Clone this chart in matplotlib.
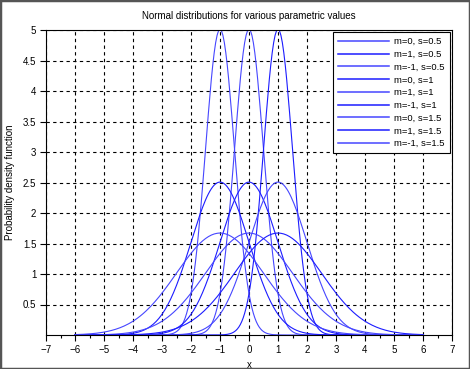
import numpy as np
import matplotlib
matplotlib.use("Agg")
import matplotlib.pyplot as plt
from matplotlib.patches import Rectangle
from matplotlib.ticker import MultipleLocator

plt.rcParams['font.family'] = ['Liberation Sans', 'DejaVu Sans']

# parameters of the curves (mean, std)
means = [0, 1, -1, 0, 1, -1, 0, 1, -1]
sigmas = [0.5, 0.5, 0.5, 1, 1, 1, 1.5, 1.5, 1.5]
labels = ["m=%g, s=%g" % (m, s) for m, s in zip(means, sigmas)]
line_colors = ['#4646ff', '#1c1cff'] * 5

x = np.arange(-6, 6.0001, 0.05)

fig = plt.figure(figsize=(4.7, 3.69), dpi=100)
ax = fig.add_axes([46/470, 1-335/369, (452-46)/470, (335-30)/369])

for i, (m, s) in enumerate(zip(means, sigmas)):
    y = np.sqrt(2*np.pi)/s * np.exp(-(x-m)**2/(2*s**2))
    ax.plot(x, y, color=line_colors[i], lw=0.8, label=labels[i])

ax.set_xlim(-7, 7)
ax.set_ylim(0, 5)
ax.set_xticks(range(-7, 8))
ax.set_yticks([0.5, 1, 1.5, 2, 2.5, 3, 3.5, 4, 4.5, 5])
ax.set_yticklabels(["0.5", "1", "1.5", "2", "2.5", "3", "3.5", "4", "4.5", "5"])
ax.xaxis.set_minor_locator(MultipleLocator(0.5))
ax.tick_params(which='major', direction='out', length=4, width=0.8, labelsize=7, pad=3)
ax.tick_params(which='minor', direction='out', length=2, width=0.8)
ax.tick_params(axis='y', which='minor', left=False)
ax.grid(True, which='major', color='black', linestyle=(0, (3, 3)), linewidth=0.8)
for sp in ax.spines.values():
    sp.set_linewidth(0.8)

ax.set_title("Normal distributions for various parametric values", fontsize=7, pad=8)
ax.set_xlabel("x", fontsize=7, labelpad=4)
ax.set_ylabel("Probability density function", fontsize=7)
ax.yaxis.set_label_coords((15-46)/406, 0.5)

leg = ax.legend(loc='upper right', fontsize=6.8, handlelength=5.4, labelspacing=0.4,
                fancybox=False, framealpha=1, edgecolor='black', borderaxespad=0.25,
                handletextpad=0.6, borderpad=0.5)
leg.get_frame().set_linewidth(0.8)
for ln in leg.get_lines():
    ln.set_linewidth(1.1)

fig.patches.append(Rectangle((0, 0), 1, 1, transform=fig.transFigure, fill=False,
                             edgecolor='#555555', linewidth=2.5))

fig.savefig("out.png", dpi=100)
